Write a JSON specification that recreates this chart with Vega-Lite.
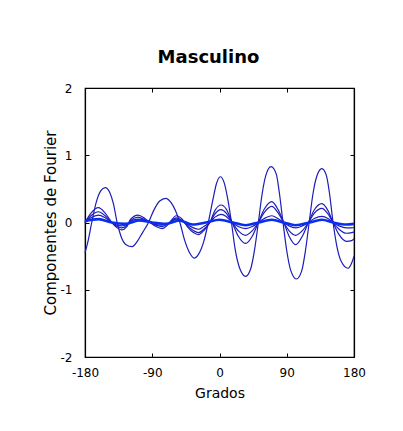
{
  "$schema": "https://vega.github.io/schema/vega-lite/v6.json",
  "width": 269,
  "height": 269,
  "autosize": {"type": "none"},
  "padding": {"left": 85, "top": 88, "right": 49, "bottom": 74},
  "background": "white",
  "title": {"text": "Masculino", "font": "DejaVu Sans", "fontSize": 18, "fontWeight": "bold", "color": "black", "anchor": "middle", "dx": -11, "baseline": "alphabetic", "offset": 1},
  "config": {
    "view": {"stroke": "black", "strokeWidth": 1.2},
    "axis": {"labelFont": "DejaVu Sans", "labelFontSize": 12, "labelColor": "black", "titleFont": "DejaVu Sans", "titleFontSize": 14, "titleFontWeight": "normal", "titleColor": "black", "domainColor": "black", "domainWidth": 1.2, "tickColor": "black", "tickWidth": 1, "tickSize": -4, "grid": false}
  },
  "datasets": {
    "curves": [
      {"g": "A", "x": -180, "y": -0.45}, {"g": "A", "x": -176, "y": -0.28}, {"g": "A", "x": -171, "y": 0.0}, {"g": "A", "x": -165, "y": 0.3}, {"g": "A", "x": -159, "y": 0.47}, {"g": "A", "x": -153, "y": 0.52}, {"g": "A", "x": -147, "y": 0.45}, {"g": "A", "x": -142, "y": 0.28}, {"g": "A", "x": -137, "y": 0.0}, {"g": "A", "x": -132, "y": -0.2}, {"g": "A", "x": -125, "y": -0.33}, {"g": "A", "x": -117, "y": -0.36}, {"g": "A", "x": -110, "y": -0.28}, {"g": "A", "x": -103, "y": -0.15}, {"g": "A", "x": -95, "y": 0.0}, {"g": "A", "x": -88, "y": 0.18}, {"g": "A", "x": -80, "y": 0.32}, {"g": "A", "x": -72, "y": 0.36}, {"g": "A", "x": -65, "y": 0.3}, {"g": "A", "x": -59, "y": 0.18}, {"g": "A", "x": -53, "y": 0.0}, {"g": "A", "x": -47, "y": -0.25}, {"g": "A", "x": -40, "y": -0.45}, {"g": "A", "x": -34, "y": -0.53}, {"g": "A", "x": -28, "y": -0.47}, {"g": "A", "x": -21, "y": -0.28}, {"g": "A", "x": -15, "y": 0.0}, {"g": "A", "x": -9, "y": 0.33}, {"g": "A", "x": -4, "y": 0.58}, {"g": "A", "x": 1, "y": 0.68}, {"g": "A", "x": 6, "y": 0.6}, {"g": "A", "x": 11, "y": 0.35}, {"g": "A", "x": 16, "y": 0.0}, {"g": "A", "x": 21, "y": -0.4}, {"g": "A", "x": 27, "y": -0.68}, {"g": "A", "x": 35, "y": -0.8}, {"g": "A", "x": 42, "y": -0.68}, {"g": "A", "x": 47, "y": -0.4}, {"g": "A", "x": 52, "y": 0.0}, {"g": "A", "x": 57, "y": 0.42}, {"g": "A", "x": 62, "y": 0.7}, {"g": "A", "x": 69, "y": 0.83}, {"g": "A", "x": 76, "y": 0.72}, {"g": "A", "x": 80, "y": 0.45}, {"g": "A", "x": 85, "y": 0.0}, {"g": "A", "x": 90, "y": -0.42}, {"g": "A", "x": 95, "y": -0.7}, {"g": "A", "x": 103, "y": -0.84}, {"g": "A", "x": 110, "y": -0.72}, {"g": "A", "x": 115, "y": -0.42}, {"g": "A", "x": 120, "y": 0.0}, {"g": "A", "x": 125, "y": 0.42}, {"g": "A", "x": 130, "y": 0.68}, {"g": "A", "x": 137, "y": 0.8}, {"g": "A", "x": 143, "y": 0.7}, {"g": "A", "x": 147, "y": 0.45}, {"g": "A", "x": 152, "y": 0.0}, {"g": "A", "x": 157, "y": -0.35}, {"g": "A", "x": 163, "y": -0.58}, {"g": "A", "x": 172, "y": -0.68}, {"g": "A", "x": 177, "y": -0.6}, {"g": "A", "x": 180, "y": -0.5},

      {"g": "B", "x": -180, "y": 0.0}, {"g": "B", "x": -172, "y": 0.14}, {"g": "B", "x": -162, "y": 0.22}, {"g": "B", "x": -153, "y": 0.14}, {"g": "B", "x": -144, "y": 0.0}, {"g": "B", "x": -137, "y": -0.08}, {"g": "B", "x": -131, "y": -0.11}, {"g": "B", "x": -124, "y": -0.06}, {"g": "B", "x": -119, "y": 0.05}, {"g": "B", "x": -109, "y": 0.11}, {"g": "B", "x": -100, "y": 0.06}, {"g": "B", "x": -93, "y": 0.0}, {"g": "B", "x": -85, "y": -0.06}, {"g": "B", "x": -77, "y": -0.09}, {"g": "B", "x": -68, "y": -0.02}, {"g": "B", "x": -58, "y": 0.1}, {"g": "B", "x": -50, "y": 0.05}, {"g": "B", "x": -43, "y": -0.06}, {"g": "B", "x": -35, "y": -0.15}, {"g": "B", "x": -28, "y": -0.18}, {"g": "B", "x": -21, "y": -0.12}, {"g": "B", "x": -13, "y": 0.0}, {"g": "B", "x": -6, "y": 0.18}, {"g": "B", "x": 2, "y": 0.26}, {"g": "B", "x": 9, "y": 0.2}, {"g": "B", "x": 17, "y": 0.0}, {"g": "B", "x": 25, "y": -0.2}, {"g": "B", "x": 35, "y": -0.31}, {"g": "B", "x": 44, "y": -0.2}, {"g": "B", "x": 52, "y": 0.0}, {"g": "B", "x": 60, "y": 0.2}, {"g": "B", "x": 70, "y": 0.31}, {"g": "B", "x": 78, "y": 0.2}, {"g": "B", "x": 86, "y": 0.0}, {"g": "B", "x": 93, "y": -0.2}, {"g": "B", "x": 102, "y": -0.33}, {"g": "B", "x": 111, "y": -0.2}, {"g": "B", "x": 119, "y": 0.0}, {"g": "B", "x": 127, "y": 0.19}, {"g": "B", "x": 137, "y": 0.28}, {"g": "B", "x": 145, "y": 0.18}, {"g": "B", "x": 152, "y": 0.0}, {"g": "B", "x": 160, "y": -0.18}, {"g": "B", "x": 170, "y": -0.28}, {"g": "B", "x": 177, "y": -0.27}, {"g": "B", "x": 180, "y": -0.24},

      {"g": "C", "x": -180, "y": 0.0}, {"g": "C", "x": -172, "y": 0.1}, {"g": "C", "x": -162, "y": 0.16}, {"g": "C", "x": -153, "y": 0.1}, {"g": "C", "x": -144, "y": 0.0}, {"g": "C", "x": -137, "y": -0.06}, {"g": "C", "x": -131, "y": -0.08}, {"g": "C", "x": -124, "y": -0.04}, {"g": "C", "x": -119, "y": 0.03}, {"g": "C", "x": -109, "y": 0.08}, {"g": "C", "x": -100, "y": 0.04}, {"g": "C", "x": -93, "y": 0.0}, {"g": "C", "x": -85, "y": -0.04}, {"g": "C", "x": -77, "y": -0.06}, {"g": "C", "x": -68, "y": -0.01}, {"g": "C", "x": -58, "y": 0.07}, {"g": "C", "x": -50, "y": 0.03}, {"g": "C", "x": -43, "y": -0.05}, {"g": "C", "x": -35, "y": -0.12}, {"g": "C", "x": -28, "y": -0.15}, {"g": "C", "x": -21, "y": -0.1}, {"g": "C", "x": -13, "y": 0.0}, {"g": "C", "x": -6, "y": 0.13}, {"g": "C", "x": 2, "y": 0.19}, {"g": "C", "x": 9, "y": 0.14}, {"g": "C", "x": 17, "y": 0.0}, {"g": "C", "x": 25, "y": -0.12}, {"g": "C", "x": 35, "y": -0.19}, {"g": "C", "x": 44, "y": -0.12}, {"g": "C", "x": 52, "y": 0.0}, {"g": "C", "x": 60, "y": 0.15}, {"g": "C", "x": 70, "y": 0.24}, {"g": "C", "x": 78, "y": 0.15}, {"g": "C", "x": 86, "y": 0.0}, {"g": "C", "x": 93, "y": -0.12}, {"g": "C", "x": 102, "y": -0.19}, {"g": "C", "x": 111, "y": -0.12}, {"g": "C", "x": 119, "y": 0.0}, {"g": "C", "x": 127, "y": 0.14}, {"g": "C", "x": 137, "y": 0.21}, {"g": "C", "x": 145, "y": 0.13}, {"g": "C", "x": 152, "y": 0.0}, {"g": "C", "x": 160, "y": -0.1}, {"g": "C", "x": 170, "y": -0.16}, {"g": "C", "x": 177, "y": -0.15}, {"g": "C", "x": 180, "y": -0.14},

      {"g": "D", "x": -180, "y": 0.0}, {"g": "D", "x": -172, "y": 0.07}, {"g": "D", "x": -162, "y": 0.11}, {"g": "D", "x": -153, "y": 0.07}, {"g": "D", "x": -144, "y": 0.0}, {"g": "D", "x": -137, "y": -0.04}, {"g": "D", "x": -131, "y": -0.05}, {"g": "D", "x": -124, "y": -0.03}, {"g": "D", "x": -119, "y": 0.02}, {"g": "D", "x": -109, "y": 0.05}, {"g": "D", "x": -100, "y": 0.03}, {"g": "D", "x": -93, "y": 0.0}, {"g": "D", "x": -85, "y": -0.03}, {"g": "D", "x": -77, "y": -0.04}, {"g": "D", "x": -68, "y": -0.01}, {"g": "D", "x": -58, "y": 0.05}, {"g": "D", "x": -50, "y": 0.02}, {"g": "D", "x": -43, "y": -0.03}, {"g": "D", "x": -35, "y": -0.08}, {"g": "D", "x": -28, "y": -0.1}, {"g": "D", "x": -21, "y": -0.06}, {"g": "D", "x": -13, "y": 0.0}, {"g": "D", "x": -6, "y": 0.08}, {"g": "D", "x": 2, "y": 0.12}, {"g": "D", "x": 9, "y": 0.09}, {"g": "D", "x": 17, "y": 0.0}, {"g": "D", "x": 25, "y": -0.06}, {"g": "D", "x": 35, "y": -0.09}, {"g": "D", "x": 44, "y": -0.06}, {"g": "D", "x": 52, "y": 0.0}, {"g": "D", "x": 60, "y": 0.06}, {"g": "D", "x": 70, "y": 0.1}, {"g": "D", "x": 78, "y": 0.06}, {"g": "D", "x": 86, "y": 0.0}, {"g": "D", "x": 93, "y": -0.05}, {"g": "D", "x": 102, "y": -0.08}, {"g": "D", "x": 111, "y": -0.05}, {"g": "D", "x": 119, "y": 0.0}, {"g": "D", "x": 127, "y": 0.06}, {"g": "D", "x": 137, "y": 0.09}, {"g": "D", "x": 145, "y": 0.06}, {"g": "D", "x": 152, "y": 0.0}, {"g": "D", "x": 160, "y": -0.05}, {"g": "D", "x": 170, "y": -0.08}, {"g": "D", "x": 177, "y": -0.08}, {"g": "D", "x": 180, "y": -0.07}
    ],
    "flat": [
      {"x": -180, "y": 0.02}, {"x": -162, "y": 0.05}, {"x": -144, "y": 0.0}, {"x": -126, "y": -0.02}, {"x": -108, "y": 0.03}, {"x": -90, "y": 0.0}, {"x": -72, "y": -0.02}, {"x": -54, "y": 0.03}, {"x": -36, "y": -0.03}, {"x": -18, "y": 0.0}, {"x": 0, "y": 0.04}, {"x": 18, "y": 0.0}, {"x": 35, "y": -0.04}, {"x": 52, "y": 0.0}, {"x": 70, "y": 0.04}, {"x": 86, "y": 0.0}, {"x": 102, "y": -0.04}, {"x": 120, "y": 0.0}, {"x": 137, "y": 0.04}, {"x": 152, "y": 0.0}, {"x": 170, "y": -0.03}, {"x": 180, "y": -0.02}
    ]
  },
  "layer": [
    {
      "data": {"name": "curves"},
      "mark": {"type": "line", "interpolate": "monotone", "strokeWidth": 1.2, "color": "#1c1cb8"},
      "encoding": {
        "x": {"field": "x", "type": "quantitative", "scale": {"domain": [-180, 180], "nice": false, "zero": false},
              "axis": {"orient": "bottom", "title": "Grados", "values": [-180, -90, 0, 90, 180], "labelPadding": 14, "titlePadding": 8, "labelExpr": "replace(datum.label, '−', '-')", "labelFlush": false}},
        "y": {"field": "y", "type": "quantitative", "scale": {"domain": [-2, 2], "nice": false, "zero": false},
              "axis": {"orient": "left", "title": "Componentes de Fourier", "titleFontSize": 15, "values": [-2, -1, 0, 1, 2], "labelPadding": 17, "titlePadding": 2, "labelExpr": "replace(datum.label, '−', '-')", "labelFlush": false}},
        "detail": {"field": "g"}
      }
    },
    {
      "data": {"name": "flat"},
      "mark": {"type": "line", "interpolate": "monotone", "strokeWidth": 2.6, "color": "#0a2ef0"},
      "encoding": {
        "x": {"field": "x", "type": "quantitative", "scale": {"domain": [-180, 180], "nice": false, "zero": false},
              "axis": {"orient": "top", "title": null, "labels": false, "values": [-180, -90, 0, 90, 180]}},
        "y": {"field": "y", "type": "quantitative", "scale": {"domain": [-2, 2], "nice": false, "zero": false},
              "axis": {"orient": "right", "title": null, "labels": false, "values": [-2, -1, 0, 1, 2]}}
      }
    }
  ],
  "resolve": {"axis": {"x": "independent", "y": "independent"}}
}
